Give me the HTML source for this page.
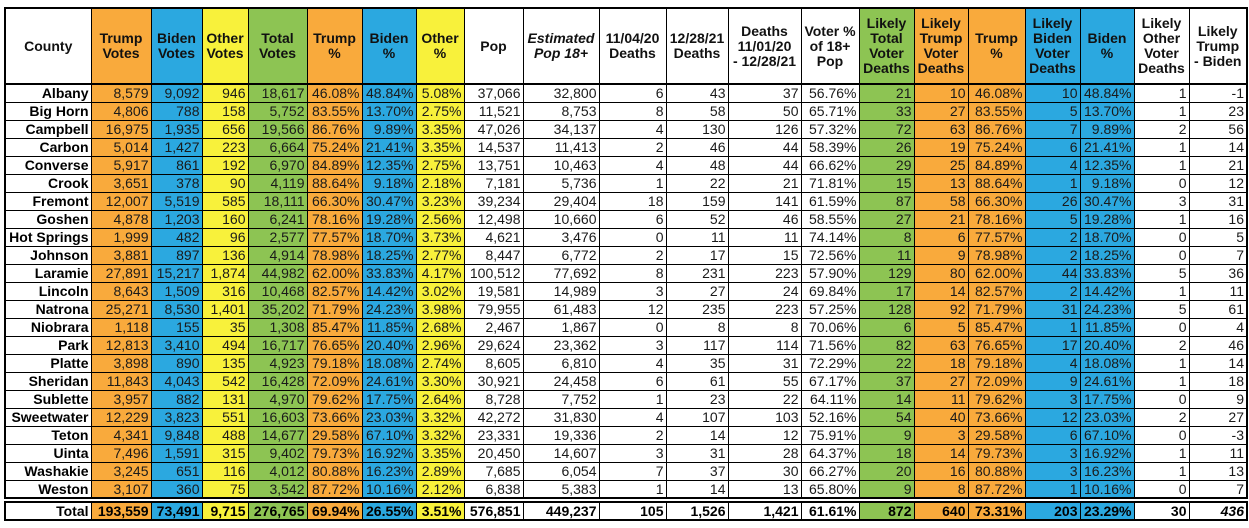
<!DOCTYPE html>
<html><head><meta charset="utf-8"><style>
body{margin:0;width:1249px;height:528px;background:#fff;overflow:hidden;font-family:"Liberation Sans",Arial,sans-serif;position:relative}
table{position:absolute;left:4px;border-collapse:collapse;table-layout:fixed;width:1242px;font-size:14px;color:#1a1a1a}
td,th{border:1px solid #000;padding:0 2px 0 0;text-align:right;white-space:nowrap;overflow:hidden;line-height:16px}
th{text-align:center;font-weight:bold;font-size:14px;line-height:15px;color:#111;padding:0;white-space:nowrap;border-bottom:2px solid #000}
#main{top:7px;border:2px solid #000}
#main tbody tr{height:18px}
#main thead tr{height:76px}
td:first-child{font-weight:bold;color:#000}
#tot{top:501px;border:2px solid #000}
#tot tr{height:18px}
#tot td{font-weight:bold;color:#000;border-top:2px solid #000;border-bottom:2px solid #000;line-height:15px}
.o{background:#f9aa3c}.b{background:#2ba8e0}.y{background:#f8f13b}.g{background:#8dc453}
</style></head><body>
<table id="main">
<colgroup><col style="width:86px"><col class="o" style="width:60px"><col class="b" style="width:51px"><col class="y" style="width:46px"><col class="g" style="width:59px"><col class="o" style="width:55px"><col class="b" style="width:54px"><col class="y" style="width:48px"><col style="width:59px"><col style="width:76px"><col style="width:67px"><col style="width:62px"><col style="width:73px"><col style="width:58px"><col class="g" style="width:55px"><col class="o" style="width:54px"><col class="o" style="width:57px"><col class="b" style="width:55px"><col class="b" style="width:54px"><col style="width:55px"><col style="width:58px"></colgroup>
<thead><tr><th>County</th><th>Trump<br>Votes</th><th>Biden<br>Votes</th><th>Other<br>Votes</th><th>Total<br>Votes</th><th>Trump<br>%</th><th>Biden<br>%</th><th>Other<br>%</th><th>Pop</th><th><i>Estimated<br>Pop 18+</i></th><th>11/04/20<br>Deaths</th><th>12/28/21<br>Deaths</th><th>Deaths<br>11/01/20<br>- 12/28/21</th><th>Voter %<br>of 18+<br>Pop</th><th>Likely<br>Total<br>Voter<br>Deaths</th><th>Likely<br>Trump<br>Voter<br>Deaths</th><th>Trump<br>%</th><th>Likely<br>Biden<br>Voter<br>Deaths</th><th>Biden<br>%</th><th>Likely<br>Other<br>Voter<br>Deaths</th><th>Likely<br>Trump<br>- Biden</th></tr></thead>
<tbody>
<tr><td>Albany</td><td>8,579</td><td>9,092</td><td>946</td><td>18,617</td><td>46.08%</td><td>48.84%</td><td>5.08%</td><td>37,066</td><td>32,800</td><td>6</td><td>43</td><td>37</td><td>56.76%</td><td>21</td><td>10</td><td>46.08%</td><td>10</td><td>48.84%</td><td>1</td><td>-1</td></tr>
<tr><td>Big Horn</td><td>4,806</td><td>788</td><td>158</td><td>5,752</td><td>83.55%</td><td>13.70%</td><td>2.75%</td><td>11,521</td><td>8,753</td><td>8</td><td>58</td><td>50</td><td>65.71%</td><td>33</td><td>27</td><td>83.55%</td><td>5</td><td>13.70%</td><td>1</td><td>23</td></tr>
<tr><td>Campbell</td><td>16,975</td><td>1,935</td><td>656</td><td>19,566</td><td>86.76%</td><td>9.89%</td><td>3.35%</td><td>47,026</td><td>34,137</td><td>4</td><td>130</td><td>126</td><td>57.32%</td><td>72</td><td>63</td><td>86.76%</td><td>7</td><td>9.89%</td><td>2</td><td>56</td></tr>
<tr><td>Carbon</td><td>5,014</td><td>1,427</td><td>223</td><td>6,664</td><td>75.24%</td><td>21.41%</td><td>3.35%</td><td>14,537</td><td>11,413</td><td>2</td><td>46</td><td>44</td><td>58.39%</td><td>26</td><td>19</td><td>75.24%</td><td>6</td><td>21.41%</td><td>1</td><td>14</td></tr>
<tr><td>Converse</td><td>5,917</td><td>861</td><td>192</td><td>6,970</td><td>84.89%</td><td>12.35%</td><td>2.75%</td><td>13,751</td><td>10,463</td><td>4</td><td>48</td><td>44</td><td>66.62%</td><td>29</td><td>25</td><td>84.89%</td><td>4</td><td>12.35%</td><td>1</td><td>21</td></tr>
<tr><td>Crook</td><td>3,651</td><td>378</td><td>90</td><td>4,119</td><td>88.64%</td><td>9.18%</td><td>2.18%</td><td>7,181</td><td>5,736</td><td>1</td><td>22</td><td>21</td><td>71.81%</td><td>15</td><td>13</td><td>88.64%</td><td>1</td><td>9.18%</td><td>0</td><td>12</td></tr>
<tr><td>Fremont</td><td>12,007</td><td>5,519</td><td>585</td><td>18,111</td><td>66.30%</td><td>30.47%</td><td>3.23%</td><td>39,234</td><td>29,404</td><td>18</td><td>159</td><td>141</td><td>61.59%</td><td>87</td><td>58</td><td>66.30%</td><td>26</td><td>30.47%</td><td>3</td><td>31</td></tr>
<tr><td>Goshen</td><td>4,878</td><td>1,203</td><td>160</td><td>6,241</td><td>78.16%</td><td>19.28%</td><td>2.56%</td><td>12,498</td><td>10,660</td><td>6</td><td>52</td><td>46</td><td>58.55%</td><td>27</td><td>21</td><td>78.16%</td><td>5</td><td>19.28%</td><td>1</td><td>16</td></tr>
<tr><td>Hot Springs</td><td>1,999</td><td>482</td><td>96</td><td>2,577</td><td>77.57%</td><td>18.70%</td><td>3.73%</td><td>4,621</td><td>3,476</td><td>0</td><td>11</td><td>11</td><td>74.14%</td><td>8</td><td>6</td><td>77.57%</td><td>2</td><td>18.70%</td><td>0</td><td>5</td></tr>
<tr><td>Johnson</td><td>3,881</td><td>897</td><td>136</td><td>4,914</td><td>78.98%</td><td>18.25%</td><td>2.77%</td><td>8,447</td><td>6,772</td><td>2</td><td>17</td><td>15</td><td>72.56%</td><td>11</td><td>9</td><td>78.98%</td><td>2</td><td>18.25%</td><td>0</td><td>7</td></tr>
<tr><td>Laramie</td><td>27,891</td><td>15,217</td><td>1,874</td><td>44,982</td><td>62.00%</td><td>33.83%</td><td>4.17%</td><td>100,512</td><td>77,692</td><td>8</td><td>231</td><td>223</td><td>57.90%</td><td>129</td><td>80</td><td>62.00%</td><td>44</td><td>33.83%</td><td>5</td><td>36</td></tr>
<tr><td>Lincoln</td><td>8,643</td><td>1,509</td><td>316</td><td>10,468</td><td>82.57%</td><td>14.42%</td><td>3.02%</td><td>19,581</td><td>14,989</td><td>3</td><td>27</td><td>24</td><td>69.84%</td><td>17</td><td>14</td><td>82.57%</td><td>2</td><td>14.42%</td><td>1</td><td>11</td></tr>
<tr><td>Natrona</td><td>25,271</td><td>8,530</td><td>1,401</td><td>35,202</td><td>71.79%</td><td>24.23%</td><td>3.98%</td><td>79,955</td><td>61,483</td><td>12</td><td>235</td><td>223</td><td>57.25%</td><td>128</td><td>92</td><td>71.79%</td><td>31</td><td>24.23%</td><td>5</td><td>61</td></tr>
<tr><td>Niobrara</td><td>1,118</td><td>155</td><td>35</td><td>1,308</td><td>85.47%</td><td>11.85%</td><td>2.68%</td><td>2,467</td><td>1,867</td><td>0</td><td>8</td><td>8</td><td>70.06%</td><td>6</td><td>5</td><td>85.47%</td><td>1</td><td>11.85%</td><td>0</td><td>4</td></tr>
<tr><td>Park</td><td>12,813</td><td>3,410</td><td>494</td><td>16,717</td><td>76.65%</td><td>20.40%</td><td>2.96%</td><td>29,624</td><td>23,362</td><td>3</td><td>117</td><td>114</td><td>71.56%</td><td>82</td><td>63</td><td>76.65%</td><td>17</td><td>20.40%</td><td>2</td><td>46</td></tr>
<tr><td>Platte</td><td>3,898</td><td>890</td><td>135</td><td>4,923</td><td>79.18%</td><td>18.08%</td><td>2.74%</td><td>8,605</td><td>6,810</td><td>4</td><td>35</td><td>31</td><td>72.29%</td><td>22</td><td>18</td><td>79.18%</td><td>4</td><td>18.08%</td><td>1</td><td>14</td></tr>
<tr><td>Sheridan</td><td>11,843</td><td>4,043</td><td>542</td><td>16,428</td><td>72.09%</td><td>24.61%</td><td>3.30%</td><td>30,921</td><td>24,458</td><td>6</td><td>61</td><td>55</td><td>67.17%</td><td>37</td><td>27</td><td>72.09%</td><td>9</td><td>24.61%</td><td>1</td><td>18</td></tr>
<tr><td>Sublette</td><td>3,957</td><td>882</td><td>131</td><td>4,970</td><td>79.62%</td><td>17.75%</td><td>2.64%</td><td>8,728</td><td>7,752</td><td>1</td><td>23</td><td>22</td><td>64.11%</td><td>14</td><td>11</td><td>79.62%</td><td>3</td><td>17.75%</td><td>0</td><td>9</td></tr>
<tr><td>Sweetwater</td><td>12,229</td><td>3,823</td><td>551</td><td>16,603</td><td>73.66%</td><td>23.03%</td><td>3.32%</td><td>42,272</td><td>31,830</td><td>4</td><td>107</td><td>103</td><td>52.16%</td><td>54</td><td>40</td><td>73.66%</td><td>12</td><td>23.03%</td><td>2</td><td>27</td></tr>
<tr><td>Teton</td><td>4,341</td><td>9,848</td><td>488</td><td>14,677</td><td>29.58%</td><td>67.10%</td><td>3.32%</td><td>23,331</td><td>19,336</td><td>2</td><td>14</td><td>12</td><td>75.91%</td><td>9</td><td>3</td><td>29.58%</td><td>6</td><td>67.10%</td><td>0</td><td>-3</td></tr>
<tr><td>Uinta</td><td>7,496</td><td>1,591</td><td>315</td><td>9,402</td><td>79.73%</td><td>16.92%</td><td>3.35%</td><td>20,450</td><td>14,607</td><td>3</td><td>31</td><td>28</td><td>64.37%</td><td>18</td><td>14</td><td>79.73%</td><td>3</td><td>16.92%</td><td>1</td><td>11</td></tr>
<tr><td>Washakie</td><td>3,245</td><td>651</td><td>116</td><td>4,012</td><td>80.88%</td><td>16.23%</td><td>2.89%</td><td>7,685</td><td>6,054</td><td>7</td><td>37</td><td>30</td><td>66.27%</td><td>20</td><td>16</td><td>80.88%</td><td>3</td><td>16.23%</td><td>1</td><td>13</td></tr>
<tr><td>Weston</td><td>3,107</td><td>360</td><td>75</td><td>3,542</td><td>87.72%</td><td>10.16%</td><td>2.12%</td><td>6,838</td><td>5,383</td><td>1</td><td>14</td><td>13</td><td>65.80%</td><td>9</td><td>8</td><td>87.72%</td><td>1</td><td>10.16%</td><td>0</td><td>7</td></tr>
</tbody></table>
<table id="tot">
<colgroup><col style="width:86px"><col class="o" style="width:60px"><col class="b" style="width:51px"><col class="y" style="width:46px"><col class="g" style="width:59px"><col class="o" style="width:55px"><col class="b" style="width:54px"><col class="y" style="width:48px"><col style="width:59px"><col style="width:76px"><col style="width:67px"><col style="width:62px"><col style="width:73px"><col style="width:58px"><col class="g" style="width:55px"><col class="o" style="width:54px"><col class="o" style="width:57px"><col class="b" style="width:55px"><col class="b" style="width:54px"><col style="width:55px"><col style="width:58px"></colgroup>
<tr><td>Total</td><td>193,559</td><td>73,491</td><td>9,715</td><td>276,765</td><td>69.94%</td><td>26.55%</td><td>3.51%</td><td>576,851</td><td>449,237</td><td>105</td><td>1,526</td><td>1,421</td><td>61.61%</td><td>872</td><td>640</td><td>73.31%</td><td>203</td><td>23.29%</td><td>30</td><td><i>436</i></td></tr>
</table>
</body></html>
